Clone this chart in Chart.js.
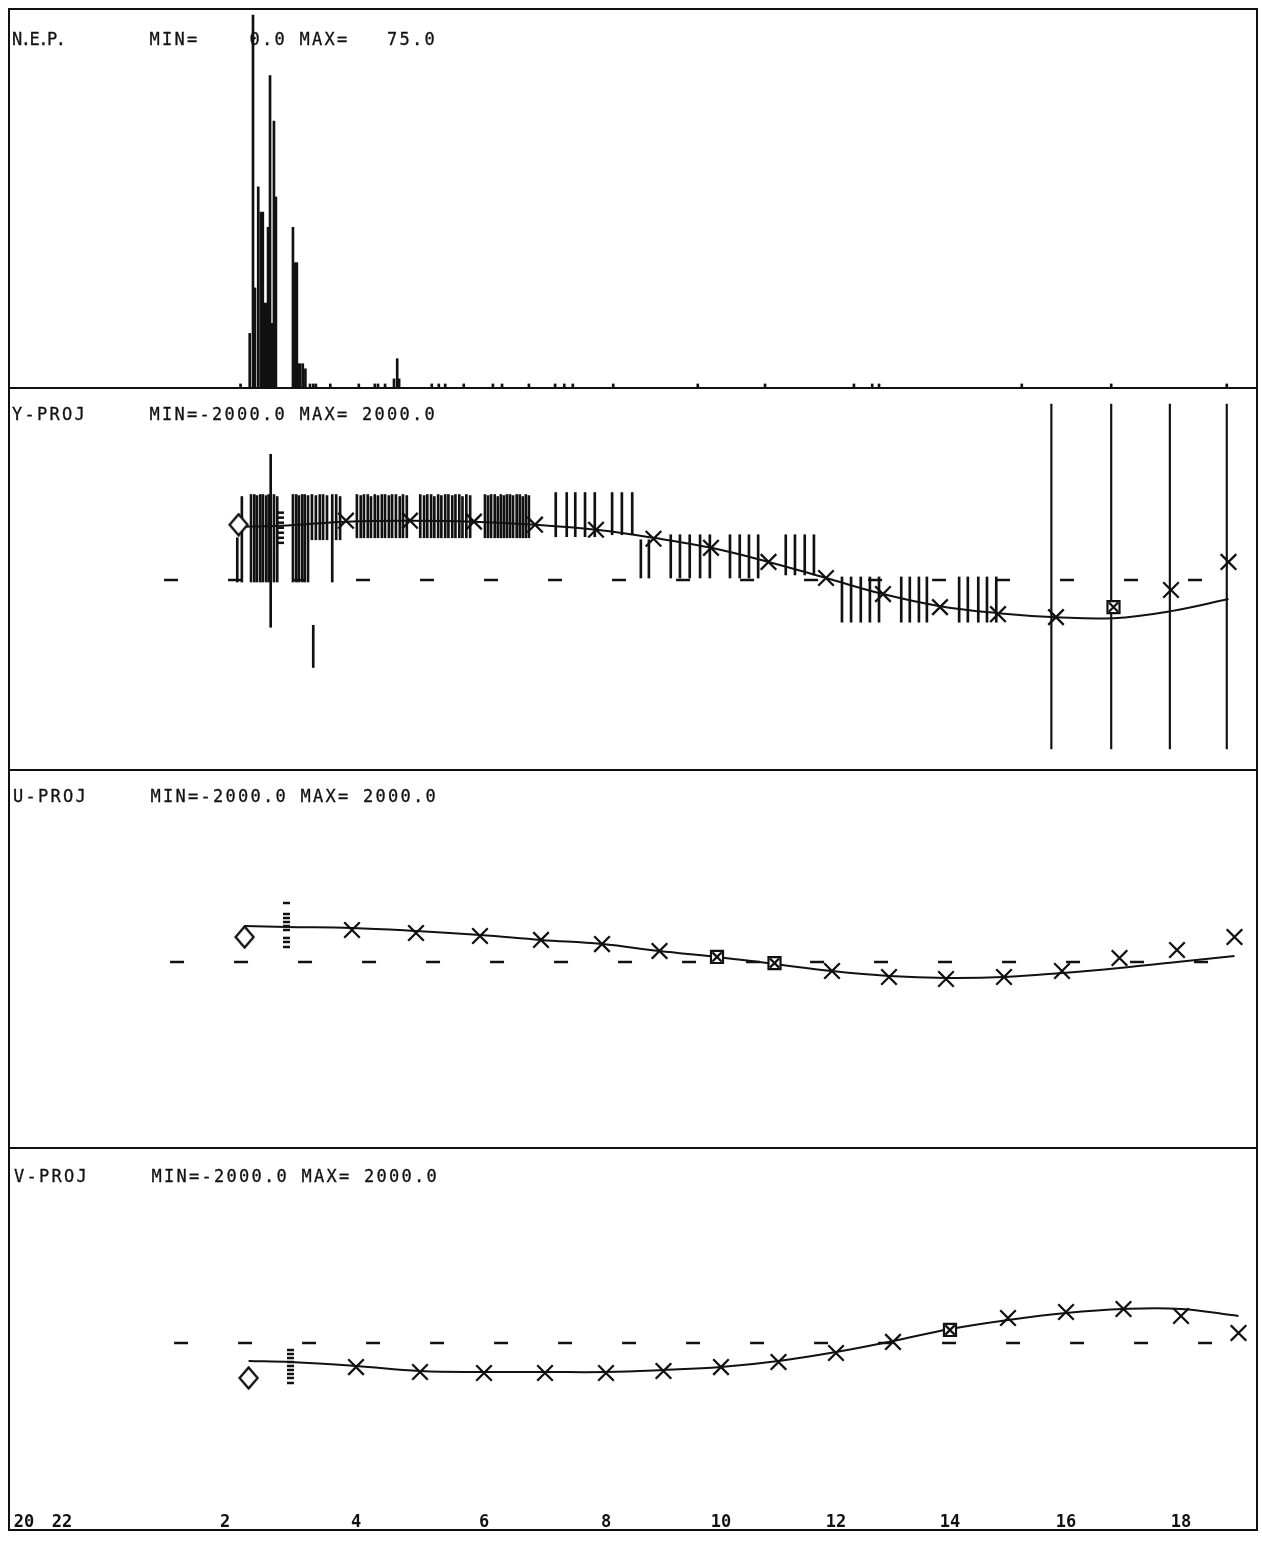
<!DOCTYPE html>
<html>
<head>
<meta charset="utf-8">
<title>N.E.P. / Y-PROJ / U-PROJ / V-PROJ</title>
<script src="https://cdn.jsdelivr.net/npm/chart.js@4.4.1/dist/chart.umd.min.js"></script>
<style>
  html, body { margin: 0; padding: 0; background: #fff; }
  body { width: 1262px; height: 1541px; position: relative; overflow: hidden; }
  canvas { position: absolute; }
  #frame { position: absolute; left: 8px; top: 8px; width: 1250px; height: 1523px; border: 2px solid #111; box-sizing: border-box; z-index: 2; }
  .sep { position: absolute; left: 8px; width: 1250px; height: 2px; background: #111; z-index: 2; }
  .cap { position: absolute; z-index: 3; white-space: pre; color: #111; -webkit-text-stroke: 0.3px #111;
         font: 17px/17px "DejaVu Sans Mono", monospace; letter-spacing: 2.27px; }
  .cap .nm { display: inline-block; width: 137.5px; }
  .cap .tight { letter-spacing: -1.5px; }
</style>
</head>
<body>
<div id="frame"></div>
<div class="sep" style="top:387px"></div>
<div class="sep" style="top:769px"></div>
<div class="sep" style="top:1147px"></div>

<canvas id="nep"   width="1250" height="379" style="left:-2px;top:10px"></canvas>
<canvas id="yproj" width="1250" height="382" style="left:-2px;top:389px"></canvas>
<canvas id="uproj" width="1250" height="380" style="left:4px;top:772px"></canvas>
<canvas id="vproj" width="1250" height="380" style="left:8px;top:1153px"></canvas>

<div class="cap" style="left:12px;top:31px"><span class="nm tight">N.E.P.</span>MIN=    0.0 MAX=   75.0</div>
<div class="cap" style="left:12px;top:406px"><span class="nm">Y-PROJ</span>MIN=-2000.0 MAX= 2000.0</div>
<div class="cap" style="left:13px;top:788px"><span class="nm">U-PROJ</span>MIN=-2000.0 MAX= 2000.0</div>
<div class="cap" style="left:14px;top:1168px"><span class="nm">V-PROJ</span>MIN=-2000.0 MAX= 2000.0</div>

<script>
// time axis: clock hours, the evening before midnight as negatives (20h = -4)
const AXIS_HOURS = [-4, -2, 2, 4, 6, 8, 10, 12, 14, 16, 18];
const AXIS_TEXT  = ['20', '22', '2', '4', '6', '8', '10', '12', '14', '16', '18'];
// fraction of the plot width at each labelled hour (the hour axis is not uniform)
const AXIS_FRAC  = [0.0128, 0.0432, 0.1736, 0.2784, 0.3808, 0.4784, 0.5704, 0.6624, 0.7536, 0.8464, 0.9384];

// hourly profile values
const HOURS  = [4, 5, 6, 7, 8, 9, 10, 11, 12, 13, 14, 15, 16, 17, 18, 19];
const Y_PROJ = [621, 621, 611, 579, 526, 432, 337, 189, 21, -147, -284, -358, -389, -284, -105, 189];
const U_PROJ = [337, 305, 274, 232, 189, 116, 53, -11, -95, -158, -179, -158, -95, 42, 126, 263];
const V_PROJ = [-253, -305, -316, -316, -316, -295, -253, -200, -105, 11, 137, 263, 326, 358, 284, 105];
const Y_BOXED = [17];
const U_BOXED = [10, 11];
const V_BOXED = [14];

// smoothed fit
const FIT_HOURS = [2.36, 3, 4, 5, 6, 7, 8, 9, 10, 11, 12, 13, 14, 15, 16, 17, 18, 19];
const Y_FIT = [558, 568, 611, 621, 611, 579, 526, 442, 337, 189, 21, -147, -274, -347, -389, -400, -326, -200];
const U_FIT = [379, 368, 358, 326, 284, 232, 189, 116, 53, -21, -95, -147, -168, -158, -116, -63, 0, 63];
const V_FIT = [-189, -200, -242, -295, -305, -305, -305, -284, -253, -189, -95, 21, 147, 242, 316, 358, 358, 284];

// start value
const START_HOUR = 2.36;
const Y_START = 579, U_START = 263, V_START = -368;

// cluster of single samples at 3h
const LADDER_HOUR = 3;
const Y_LADDER = [705, 653, 600, 547, 495, 442, 389];
const U_LADDER = [621, 505, 463, 421, 379, 337, 253, 211, 158];
const V_LADDER = [-74, -116, -158, -200, -242, -284, -326, -368, -421];

// zero reference
const ZERO_FROM = 0.75, ZERO_TO = 19.6;

// N.E.P. counts
const NEP_HOURS = [2.39, 2.53, 2.58, 2.61, 2.66, 2.70, 2.73, 2.75, 2.78, 2.81, 2.84, 2.87, 2.90, 2.93,
  3.19, 3.22, 3.25, 3.27, 3.30, 3.34, 3.38, 3.45, 3.50, 3.54, 3.76, 4.20, 4.45, 4.50, 4.61, 4.75, 4.80, 4.83,
  5.34, 5.45, 5.55, 5.84, 6.31, 6.46, 6.90, 7.33, 7.48, 7.62, 8.30, 9.77, 10.94, 12.49, 12.81, 12.93,
  15.41, 16.96, 18.97];
const NEP_COUNT = [1, 11, 74, 20, 40, 35, 35, 17, 17, 32, 62, 13, 53, 38,
  32, 25, 25, 5, 5, 5, 4, 1, 1, 1, 1, 1, 1, 1, 1, 2, 6, 2,
  1, 1, 1, 1, 1, 1, 1, 1, 1, 1, 1, 1, 1, 1, 1, 1,
  1, 1, 1];

// Y-PROJ individual samples: low / high of each vertical stroke
const Y_BAR_HOURS = [
  2.34, 2.41, 2.55, 2.60, 2.64, 2.69, 2.73, 2.78, 2.82, 2.85, 2.90, 2.95,
  3.19, 3.24, 3.28, 3.33, 3.37, 3.42, 3.48, 3.50, 3.54, 3.60, 3.65, 3.71, 3.79, 3.85, 3.91,
  4.17, 4.23, 4.28, 4.34, 4.39, 4.45, 4.50, 4.56, 4.61, 4.67, 4.72, 4.78, 4.84, 4.89, 4.95,
  5.16, 5.22, 5.27, 5.33, 5.38, 5.44, 5.49, 5.55, 5.60, 5.66, 5.71, 5.77, 5.82, 5.88, 5.94,
  6.18, 6.23, 6.28, 6.34, 6.39, 6.44, 6.49, 6.54, 6.59, 6.64, 6.70, 6.75, 6.80, 6.85, 6.90,
  7.34, 7.52, 7.66, 7.82, 7.98, 8.28, 8.45, 8.63, 8.78, 8.92,
  9.30, 9.46, 9.63, 9.81, 9.98, 10.33, 10.50, 10.66, 10.82, 11.30, 11.46, 11.63, 11.79,
  12.28, 12.44, 12.61, 12.77, 12.93, 13.32, 13.47, 13.63, 13.77, 14.33, 14.48, 14.66, 14.81, 14.97];
const Y_BAR_LO = [
  -21, -21, -21, -21, -21, -21, -21, -21, -21, -495, -21, -21,
  -21, -21, -21, -21, -21, -21, 421, -916, 421, 421, 421, 421, -21, 421, 421,
  442, 442, 442, 442, 442, 442, 442, 442, 442, 442, 442, 442, 442, 442, 442,
  442, 442, 442, 442, 442, 442, 442, 442, 442, 442, 442, 442, 442, 442, 442,
  442, 442, 442, 442, 442, 442, 442, 442, 442, 442, 442, 442, 442, 442, 442,
  453, 453, 453, 453, 453, 474, 474, 474, 21, 21,
  21, 21, 21, 21, 21, 21, 21, 21, 21, 53, 53, 53, 53,
  -442, -442, -442, -442, -442, -442, -442, -442, -442, -442, -442, -442, -442, -442];
const Y_BAR_HI = [
  442, 874, 895, 895, 884, 895, 895, 884, 895, 1316, 895, 874,
  895, 895, 884, 895, 895, 884, 895, -474, 884, 895, 895, 884, 895, 895, 874,
  895, 884, 895, 895, 874, 895, 884, 895, 895, 884, 895, 895, 874, 895, 884,
  895, 884, 895, 895, 874, 895, 884, 895, 895, 884, 895, 895, 874, 895, 884,
  895, 884, 895, 895, 874, 895, 884, 895, 895, 884, 895, 895, 874, 895, 884,
  916, 916, 916, 916, 916, 916, 916, 916, 421, 421,
  474, 474, 474, 474, 474, 474, 474, 474, 474, 474, 474, 474, 474,
  32, 32, 32, 32, 32, 32, 32, 32, 32, 32, 32, 32, 32, 32];
// late hours: wide uncertainty ranges
const Y_WIDE_HOURS = [15.92, 16.96, 17.98, 18.97];
const Y_WIDE_LO = [-1769, -1769, -1769, -1769];
const Y_WIDE_HI = [1842, 1842, 1842, 1842];

const INK = '#111';
const id = s => document.getElementById(s);
const xy = (xs, ys) => xs.map((x, i) => ({ x, y: ys[i] }));
const ranges = (xs, lo, hi) => xs.map((x, i) => ({ x, y: [lo[i], hi[i]] }));

// piecewise-linear lookup, extrapolating past the ends
function lookup(v, xs, ys) {
  let i = 1;
  while (i < xs.length - 1 && v > xs[i]) i++;
  const t = (v - xs[i - 1]) / (xs[i] - xs[i - 1]);
  return ys[i - 1] + t * (ys[i] - ys[i - 1]);
}

// linear scale whose hours are placed along the non-uniform time axis
class HourScale extends Chart.LinearScale {
  getPixelForValue(v) { return this.getPixelForDecimal(lookup(v, AXIS_HOURS, AXIS_FRAC)); }
  getValueForPixel(p) { return lookup(this.getDecimalForPixel(p), AXIS_FRAC, AXIS_HOURS); }
}
HourScale.id = 'hours';
HourScale.defaults = Chart.LinearScale.defaults;
Chart.register(HourScale);

// start marker: a diamond taller than wide
const diamond = (() => {
  const c = document.createElement('canvas');
  c.width = 21; c.height = 24;
  const g = c.getContext('2d');
  g.strokeStyle = INK; g.fillStyle = '#fff'; g.lineWidth = 2.4;
  g.beginPath(); g.moveTo(10.5, 1.5); g.lineTo(19.5, 12); g.lineTo(10.5, 22.5); g.lineTo(1.5, 12); g.closePath();
  g.fill(); g.stroke();
  return c;
})();

function hourAxis(show) {
  return {
    type: 'hours', min: -4.85, max: 19.35, offset: false, display: show,
    grid: { display: false, drawTicks: false },
    border: { display: false },
    afterBuildTicks: s => { s.ticks = AXIS_HOURS.map(v => ({ value: v })); },
    afterFit: s => { s.height = 0; },
    ticks: {
      autoSkip: false, maxRotation: 0, mirror: true, padding: 0, color: INK,
      font: { family: 'DejaVu Sans Mono', size: 17, weight: 'bold' },
      callback: (v, i) => AXIS_TEXT[i]
    }
  };
}

function panel(canvasId, datasets, yMin, yMax, withAxis) {
  return new Chart(id(canvasId), {
    type: 'line',
    data: { datasets },
    options: {
      responsive: false, animation: false, devicePixelRatio: 1, events: [],
      layout: { autoPadding: false, padding: 0 },
      plugins: { legend: { display: false }, tooltip: { enabled: false } },
      scales: { x: hourAxis(withAxis), y: { display: false, min: yMin, max: yMax } }
    }
  });
}

// markers first: dataset 0 is painted last
function projSets(vals, boxed, fit, start, ladder) {
  return [
    { data: xy(HOURS, vals), showLine: false, pointStyle: 'crossRot',
      pointRadius: c => boxed.includes(c.raw.x) ? 6.5 : 11,
      pointBorderWidth: 2.3, pointBorderColor: INK },
    { data: boxed.map(h => ({ x: h, y: vals[HOURS.indexOf(h)] })), showLine: false, pointStyle: 'rect',
      pointRadius: 8.5, pointBorderWidth: 2.2, pointBorderColor: INK, pointBackgroundColor: '#fff' },
    { data: [{ x: START_HOUR, y: start }], showLine: false, pointStyle: diamond, pointRadius: 11 },
    { data: ladder.map(y => ({ x: LADDER_HOUR, y })), showLine: false, pointStyle: 'line',
      pointRadius: 3.5, pointBorderWidth: 2.5, pointBorderColor: INK },
    { data: xy(FIT_HOURS, fit), borderColor: INK, borderWidth: 2, pointRadius: 0, tension: 0.4 },
    { data: [{ x: ZERO_FROM, y: 0 }, { x: ZERO_TO, y: 0 }], borderColor: INK, borderWidth: 2.5,
      borderDash: [14, 50], pointRadius: 0 }
  ];
}

panel('nep', [
  { type: 'bar', data: xy(NEP_HOURS, NEP_COUNT), backgroundColor: INK, barThickness: 2, borderWidth: 0 }
], 0, 75, false);

const yBars = [
  { type: 'bar', grouped: false, backgroundColor: INK, barThickness: 2, borderWidth: 0, borderSkipped: false,
    data: ranges(Y_BAR_HOURS, Y_BAR_LO, Y_BAR_HI) },
  { type: 'bar', grouped: false, backgroundColor: INK, barThickness: 1.5, borderWidth: 0, borderSkipped: false,
    data: ranges(Y_WIDE_HOURS, Y_WIDE_LO, Y_WIDE_HI) }
];
panel('yproj', projSets(Y_PROJ, Y_BOXED, Y_FIT, Y_START, Y_LADDER).concat(yBars), -2000, 2000, false);
panel('uproj', projSets(U_PROJ, U_BOXED, U_FIT, U_START, U_LADDER), -2000, 2000, false);
panel('vproj', projSets(V_PROJ, V_BOXED, V_FIT, V_START, V_LADDER), -2000, 2000, true);
</script>
</body>
</html>
